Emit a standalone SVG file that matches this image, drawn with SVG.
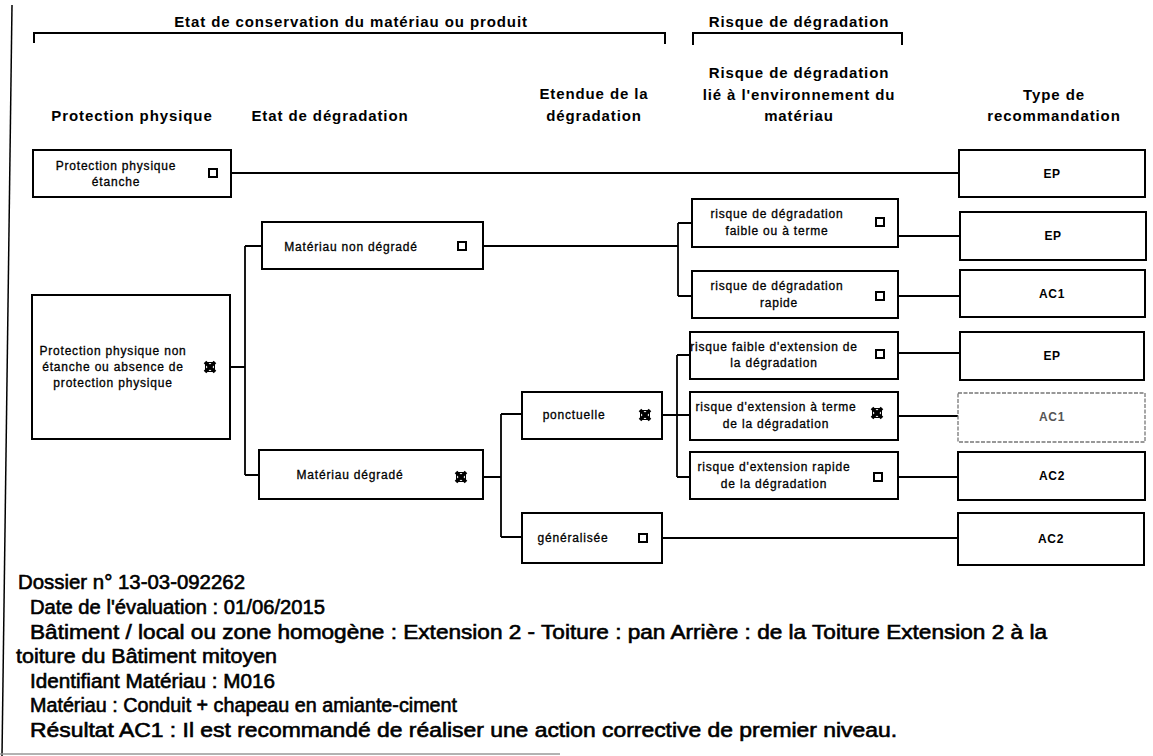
<svg xmlns="http://www.w3.org/2000/svg" xmlns:xlink="http://www.w3.org/1999/xlink" width="1153" height="756" viewBox="0 0 1153 756">
<style>
.h{font-family:'Liberation Sans',Arial,sans-serif;font-weight:bold;font-size:15px;letter-spacing:0.9px;text-anchor:middle;fill:#000}
.t{font-family:'Liberation Sans',Arial,sans-serif;font-size:12px;letter-spacing:0.8px;text-anchor:middle;fill:#000;stroke:#000;stroke-width:0.3px}
.r{font-family:'Liberation Sans',Arial,sans-serif;font-weight:bold;font-size:12px;letter-spacing:0.6px;text-anchor:middle;fill:#000}
.b{font-family:'Liberation Sans',Arial,sans-serif;font-size:20px;fill:#000;stroke:#000;stroke-width:0.6px}
.box{fill:#fff;stroke:#000;stroke-width:2}
.faint{fill:#fff;stroke:#777;stroke-width:1.3;stroke-dasharray:4 1.5}
.ln{fill:none;stroke:#000;stroke-width:1.8}
.br{fill:none;stroke:#000;stroke-width:2}
</style>
<defs>
<g id="chk"><rect x="-4" y="-4" width="8" height="8" fill="#fff" stroke="#000" stroke-width="2"/></g>
<g id="xck"><path d="M-5,-5 L5,5 M5,-5 L-5,5" stroke="#000" stroke-width="3.6"/><rect x="-4.5" y="-4.5" width="9" height="9" fill="none" stroke="#000" stroke-width="1"/></g>
</defs>
<rect width="1153" height="756" fill="#fff"/>

<g id="frame">
<line x1="12" y1="5" x2="2" y2="756" stroke="#000" stroke-width="1.5"/>
<line x1="0" y1="754" x2="560" y2="754" stroke="#999" stroke-width="1.5"/>
</g>

<g id="headers">
<text class="h" x="351" y="27">Etat de conservation du matériau ou produit</text>
<path class="br" d="M34,43 V33 H665 V44"/>
<text class="h" x="799" y="27">Risque de dégradation</text>
<path class="br" d="M693,45 V33 H902 V45"/>
<text class="h" x="132" y="121">Protection physique</text>
<text class="h" x="330" y="121">Etat de dégradation</text>
<text class="h" x="594" y="99">Etendue de la</text>
<text class="h" x="594" y="121">dégradation</text>
<text class="h" x="799" y="78">Risque de dégradation</text>
<text class="h" x="799" y="100">lié à l'environnement du</text>
<text class="h" x="799" y="121">matériau</text>
<text class="h" x="1054" y="100">Type de</text>
<text class="h" x="1054" y="121">recommandation</text>
</g>

<g id="connectors">
<path class="ln" d="M231,173 H959"/>
<path class="ln" d="M230,367 H245 M245,246 V475 M245,246 H262 M245,475 H259"/>
<path class="ln" d="M483,246 H678 M678,223 V296 M678,223 H692 M678,296 H692"/>
<path class="ln" d="M898,236 H960"/>
<path class="ln" d="M898,296 H960"/>
<path class="ln" d="M898,353 H960"/>
<path class="ln" d="M483,477 H501 M501,414 V537 M501,414 H522 M501,537 H522"/>
<path class="ln" d="M662,415 H690 M677,355 V477 M677,355 H690 M677,477 H690"/>
<path class="ln" d="M898,416 H958"/>
<path class="ln" d="M898,477 H958"/>
<path class="ln" d="M662,538 H958"/>
</g>

<g id="n-pp-etanche">
<rect class="box" x="33" y="150" width="198" height="47"/>
<text class="t" x="116" y="170">Protection physique</text>
<text class="t" x="116" y="186">étanche</text>
<use xlink:href="#chk" x="213" y="173"/>
</g>

<g id="n-pp-non-etanche">
<rect class="box" x="32" y="295" width="198" height="144"/>
<text class="t" x="113" y="355">Protection physique non</text>
<text class="t" x="113" y="371">étanche ou absence de</text>
<text class="t" x="113" y="387">protection physique</text>
<use xlink:href="#xck" x="210" y="367"/>
</g>

<g id="n-non-degrade">
<rect class="box" x="262" y="222" width="221" height="47"/>
<text class="t" x="351" y="251">Matériau non dégradé</text>
<use xlink:href="#chk" x="462" y="246"/>
</g>

<g id="n-degrade">
<rect class="box" x="259" y="450" width="224" height="49"/>
<text class="t" x="350" y="479">Matériau dégradé</text>
<use xlink:href="#xck" x="461" y="477"/>
</g>

<g id="n-ponctuelle">
<rect class="box" x="522" y="392" width="140" height="47"/>
<text class="t" x="574" y="419">ponctuelle</text>
<use xlink:href="#xck" x="645" y="415"/>
</g>

<g id="n-generalisee">
<rect class="box" x="522" y="513" width="140" height="50"/>
<text class="t" x="573" y="542">généralisée</text>
<use xlink:href="#chk" x="643" y="538"/>
</g>

<g id="n-risque-faible">
<rect class="box" x="692" y="199" width="206" height="48"/>
<text class="t" x="777" y="218">risque de dégradation</text>
<text class="t" x="777" y="235">faible ou à terme</text>
<use xlink:href="#chk" x="880" y="222"/>
</g>

<g id="n-risque-rapide">
<rect class="box" x="692" y="271" width="206" height="47"/>
<text class="t" x="777" y="290">risque de dégradation</text>
<text class="t" x="779" y="307">rapide</text>
<use xlink:href="#chk" x="880" y="296"/>
</g>

<g id="n-ext-faible">
<rect class="box" x="690" y="332" width="208" height="47"/>
<text class="t" x="774" y="351">risque faible d'extension de</text>
<text class="t" x="774" y="367">la dégradation</text>
<use xlink:href="#chk" x="880" y="354"/>
</g>

<g id="n-ext-terme">
<rect class="box" x="690" y="392" width="208" height="48"/>
<text class="t" x="776" y="411">risque d'extension à terme</text>
<text class="t" x="776" y="428">de la dégradation</text>
<use xlink:href="#xck" x="877" y="413"/>
</g>

<g id="n-ext-rapide">
<rect class="box" x="690" y="452" width="208" height="47"/>
<text class="t" x="774" y="471">risque d'extension rapide</text>
<text class="t" x="774" y="488">de la dégradation</text>
<use xlink:href="#chk" x="878" y="477"/>
</g>

<g id="r1"><rect class="box" x="959" y="150" width="186" height="47"/><text class="r" x="1052" y="178">EP</text></g>
<g id="r2"><rect class="box" x="960" y="212" width="186" height="48"/><text class="r" x="1053" y="240">EP</text></g>
<g id="r3"><rect class="box" x="960" y="270" width="185" height="47"/><text class="r" x="1052" y="298">AC1</text></g>
<g id="r4"><rect class="box" x="960" y="332" width="184" height="48"/><text class="r" x="1052" y="360">EP</text></g>
<g id="r5"><rect class="faint" x="958" y="393" width="187" height="49"/><text class="r" x="1052" y="421" style="fill:#555">AC1</text></g>
<g id="r6"><rect class="box" x="958" y="452" width="187" height="48"/><text class="r" x="1052" y="480">AC2</text></g>
<g id="r7"><rect class="box" x="958" y="513" width="186" height="52"/><text class="r" x="1051" y="543">AC2</text></g>

<g id="info">
<text class="b" x="18" y="589" textLength="227" lengthAdjust="spacingAndGlyphs">Dossier n° 13-03-092262</text>
<text class="b" x="30" y="614" textLength="295" lengthAdjust="spacingAndGlyphs">Date de l'évaluation : 01/06/2015</text>
<text class="b" x="30" y="638.5" textLength="1017" lengthAdjust="spacingAndGlyphs">Bâtiment / local ou zone homogène : Extension 2 - Toiture : pan Arrière : de la Toiture Extension 2 à la</text>
<text class="b" x="16" y="663" textLength="261" lengthAdjust="spacingAndGlyphs">toiture du Bâtiment mitoyen</text>
<text class="b" x="30" y="688" textLength="245" lengthAdjust="spacingAndGlyphs">Identifiant Matériau : M016</text>
<text class="b" x="30" y="712" textLength="427" lengthAdjust="spacingAndGlyphs">Matériau : Conduit + chapeau en amiante-ciment</text>
<text class="b" x="30" y="737" textLength="867" lengthAdjust="spacingAndGlyphs">Résultat AC1 : Il est recommandé de réaliser une action corrective de premier niveau.</text>
</g>
</svg>
